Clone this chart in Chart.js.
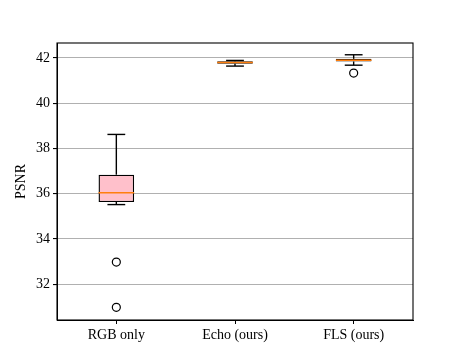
<!DOCTYPE html>
<html>
<head>
<meta charset="utf-8">
<script src="https://cdn.jsdelivr.net/npm/chart.js@4"></script>
<style>
  html, body { margin: 0; padding: 0; background: #fff; }
  #wrap { width: 459px; height: 358px; }
</style>
</head>
<body>
<div id="wrap"><canvas id="chart" width="459" height="358"></canvas></div>
<script>
// box plot values
const categories = ["RGB only", "Echo (ours)", "FLS (ours)"];
const positions = [1, 2, 3];
const whiskerLow = [35.52, 41.64, 41.68];
const q1 = [35.63, 41.74, 41.84];
const medians = [36.04, 41.80, 41.90];
const q3 = [36.84, 41.85, 41.96];
const whiskerHigh = [38.62, 41.89, 42.14];
const outliers = [[32.98, 30.98], [], [41.33]];
const yTicks = [32, 34, 36, 38, 40, 42];

const boxWidth = 0.3;
const capWidth = 0.15;
const font = { family: "'Liberation Serif', 'Times New Roman', serif", size: 14 };

function segment(x1, y1, x2, y2, color) {
  return {
    type: "line",
    data: [{ x: x1, y: y1 }, { x: x2, y: y2 }],
    borderColor: color,
    borderWidth: 1.4,
    pointRadius: 0,
    fill: false,
    order: 1
  };
}

const datasets = [];

// boxes as floating bars
datasets.push({
  type: "bar",
  data: positions.map((p, i) => ({ x: p, y: [q1[i], q3[i]] })),
  backgroundColor: "pink",
  borderColor: "black",
  borderWidth: 1.4,
  borderSkipped: false,
  barPercentage: boxWidth,
  categoryPercentage: 1,
  order: 3
});

positions.forEach((p, i) => {
  datasets.push(segment(p, q3[i], p, whiskerHigh[i], "black"));
  datasets.push(segment(p, q1[i], p, whiskerLow[i], "black"));
  datasets.push(segment(p - capWidth / 2, whiskerHigh[i], p + capWidth / 2, whiskerHigh[i], "black"));
  datasets.push(segment(p - capWidth / 2, whiskerLow[i], p + capWidth / 2, whiskerLow[i], "black"));
  datasets.push(segment(p - boxWidth / 2, medians[i], p + boxWidth / 2, medians[i], "#ff7f0e"));
});

// outliers
const flierPoints = [];
outliers.forEach((vals, i) => vals.forEach(v => flierPoints.push({ x: positions[i], y: v })));
datasets.push({
  type: "scatter",
  data: flierPoints,
  pointRadius: 4,
  pointBackgroundColor: "rgba(0,0,0,0)",
  pointBorderColor: "black",
  pointBorderWidth: 1.2,
  order: 0
});

const frame = {
  id: "frame",
  afterDraw(chart) {
    const { ctx, chartArea: a } = chart;
    ctx.save();
    ctx.strokeStyle = "black";
    ctx.lineWidth = 1.1;
    ctx.strokeRect(a.left, a.top, a.right - a.left, a.bottom - a.top);
    ctx.restore();
  }
};

new Chart(document.getElementById("chart"), {
  type: "bar",
  data: { datasets },
  plugins: [frame],
  options: {
    responsive: false,
    animation: false,
    layout: { padding: { left: 0, top: 43, right: 46, bottom: 0 } },
    plugins: { legend: { display: false }, tooltip: { enabled: false } },
    scales: {
      x: {
        type: "linear",
        min: 0.5,
        max: 3.5,
        offset: false,
        afterBuildTicks: s => { s.ticks = positions.map(v => ({ value: v })); },
        afterFit: s => { s.height = 38; },
        ticks: {
          callback: v => categories[positions.indexOf(v)],
          color: "black",
          font,
          padding: 3,
          maxRotation: 0
        },
        grid: { offset: false, drawOnChartArea: false, color: "black", tickColor: "black", tickLength: 4 },
        border: { color: "black" }
      },
      y: {
        min: 30.42,
        max: 42.66,
        afterBuildTicks: s => { s.ticks = yTicks.map(v => ({ value: v })); },
        afterFit: s => { s.width = 57; },
        ticks: { color: "black", font, padding: 3 },
        grid: { color: "#b0b0b0", lineWidth: 1.1, tickColor: "black", tickLength: 4 },
        border: { color: "black" },
        title: { display: true, text: "PSNR", color: "black", font, padding: { top: 13, bottom: 0 } }
      }
    }
  }
});
</script>
</body>
</html>
